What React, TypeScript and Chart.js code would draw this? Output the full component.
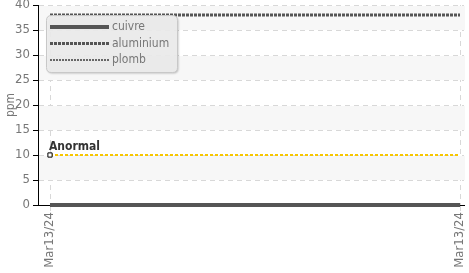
import React, { useEffect, useRef } from "react";
import { Chart, registerables } from "chart.js";

Chart.register(...registerables);

const categories = ["Mar13/24", "Mar13/24"];
const cuivre = [0, 0];
const aluminium = [38, 38];
const plomb = [0, 0];
const anormal = [10, 10];
const yMin = 0;
const yMax = 40;
const yStep = 5;
const legendNames = ["cuivre", "aluminium", "plomb"];
const yTitle = "ppm";
const anormalLabel = "Anormal";

const FONT = "'Liberation Sans Narrow', 'DejaVu Sans Condensed', 'Roboto', sans-serif";

const pts = (arr: number[]) => arr.map((v, i) => ({ x: i, y: v }));

const bandsPlugin = {
  id: "bands",
  beforeDatasetsDraw(chart: any) {
    const { ctx, chartArea, scales } = chart;
    const y = scales.y;
    ctx.save();
    ctx.fillStyle = "#f7f7f7";
    const ticks = y.ticks;
    for (let i = 0; i < ticks.length - 1; i++) {
      if (i % 2 === 1) {
        const top = y.getPixelForValue(ticks[i + 1].value);
        const bot = y.getPixelForValue(ticks[i].value);
        ctx.fillRect(chartArea.left + 1, top + 1, chartArea.right - chartArea.left, bot - top - 1);
      }
    }
    ctx.restore();
  },
};

const xLabelsPlugin = {
  id: "xLabels",
  afterDraw(chart: any) {
    const { ctx, scales, chartArea } = chart;
    const x = scales.x;
    ctx.save();
    ctx.font = "13px " + FONT;
    ctx.fillStyle = "#777";
    ctx.textAlign = "right";
    ctx.textBaseline = "middle";
    categories.forEach((label, i) => {
      const px = x.getPixelForValue(i);
      ctx.save();
      ctx.translate(px, chartArea.bottom + 7);
      ctx.rotate(-Math.PI / 2);
      ctx.fillText(label, 0, 0);
      ctx.restore();
    });
    ctx.restore();
  },
};

const overlayPlugin = {
  id: "overlay",
  afterDatasetsDraw(chart: any) {
    const { ctx, scales } = chart;
    const x = scales.x;
    const y = scales.y;
    ctx.save();
    // Anormal label
    const px = x.getPixelForValue(0);
    const py = y.getPixelForValue(anormal[0]);
    ctx.font = "bold 12px " + FONT;
    ctx.fillStyle = "#333";
    ctx.textAlign = "left";
    ctx.textBaseline = "alphabetic";
    ctx.fillText(anormalLabel, px - 1, py - 5);

    // Legend box
    const bx = 46.5, by = 15.5, bw = 131, bh = 57, r = 5;
    ctx.shadowColor = "rgba(0,0,0,0.25)";
    ctx.shadowOffsetX = 1;
    ctx.shadowOffsetY = 1;
    ctx.shadowBlur = 2;
    ctx.beginPath();
    ctx.moveTo(bx + r, by);
    ctx.lineTo(bx + bw - r, by);
    ctx.quadraticCurveTo(bx + bw, by, bx + bw, by + r);
    ctx.lineTo(bx + bw, by + bh - r);
    ctx.quadraticCurveTo(bx + bw, by + bh, bx + bw - r, by + bh);
    ctx.lineTo(bx + r, by + bh);
    ctx.quadraticCurveTo(bx, by + bh, bx, by + bh - r);
    ctx.lineTo(bx, by + r);
    ctx.quadraticCurveTo(bx, by, bx + r, by);
    ctx.closePath();
    ctx.fillStyle = "rgba(238,238,238,0.92)";
    ctx.fill();
    ctx.shadowColor = "transparent";
    ctx.strokeStyle = "#c8c8c8";
    ctx.lineWidth = 1;
    ctx.stroke();

    const ds = chart.data.datasets;
    ctx.font = "12px " + FONT;
    ctx.textBaseline = "middle";
    legendNames.forEach((name, i) => {
      const d = ds[i];
      const ly = 27 + i * 16.5;
      ctx.beginPath();
      ctx.setLineDash(d.borderDash || []);
      ctx.lineWidth = d.borderWidth;
      ctx.strokeStyle = d.borderColor;
      ctx.moveTo(50, ly);
      ctx.lineTo(109, ly);
      ctx.stroke();
      ctx.setLineDash([]);
      ctx.fillStyle = "#777";
      ctx.fillText(name, 112, ly);
    });
    ctx.restore();
  },
};

export default function App() {
  const ref = useRef<HTMLCanvasElement | null>(null);
  useEffect(() => {
    if (!ref.current) return;
    const chart = new Chart(ref.current, {
      type: "line",
      data: {
        datasets: [
          {
            label: legendNames[0],
            data: pts(cuivre),
            borderColor: "#555",
            borderWidth: 4,
            pointRadius: 0,
            clip: false,
          } as any,
          {
            label: legendNames[1],
            data: pts(aluminium),
            borderColor: "#555",
            borderWidth: 3,
            borderDash: [3, 1],
            pointRadius: 0,
            clip: false,
          },
          {
            label: legendNames[2],
            data: pts(plomb),
            borderColor: "#666",
            borderWidth: 2,
            borderDash: [2, 1],
            pointRadius: 0,
            clip: false,
          },
          {
            label: anormalLabel,
            data: pts(anormal),
            borderColor: "#f7c600",
            borderWidth: 2,
            borderDash: [3, 2],
            pointStyle: "rect",
            pointRadius: [3, 0],
            pointBackgroundColor: "#fff",
            pointBorderColor: "#000",
            pointBorderWidth: 1,
            clip: false,
          },
        ],
      },
      options: {
        animation: false,
        responsive: false,
        events: [],
        layout: { padding: 0 },
        plugins: { legend: { display: false }, tooltip: { enabled: false } },
        scales: {
          x: {
            type: "linear",
            min: -12 / 410,
            max: 1 + 4 / 410,
            afterBuildTicks: (s: any) => {
              s.ticks = categories.map((_, i) => ({ value: i }));
            },
            afterFit: (s: any) => {
              s.height = 68;
              s.paddingLeft = 0;
              s.paddingRight = 0;
            },
            ticks: {
              display: false,
              autoSkip: false,
            },
            grid: {
              color: "#d8d8d8",
              tickColor: "#d8d8d8",
              tickLength: 6,
            } as any,
            border: { color: "#000", width: 1, dash: [5, 4] },
          },
          y: {
            min: yMin,
            max: yMax,
            afterFit: (s: any) => {
              s.width = 38;
              s.paddingTop = 5;
              s.paddingBottom = 0;
            },
            ticks: {
              stepSize: yStep,
              color: "#777",
              font: { family: FONT, size: 13 },
              padding: 3,
            },
            grid: {
              color: "#d8d8d8",
              tickColor: "#000",
              tickLength: 5,
              tickBorderDash: [],
            } as any,
            border: { color: "#000", width: 1, dash: [5, 4] },
            title: {
              display: true,
              text: yTitle,
              color: "#777",
              font: { family: FONT, size: 12 },
              padding: { top: 4, bottom: 0 },
            },
          },
        },
      },
      plugins: [bandsPlugin, overlayPlugin, xLabelsPlugin],
    } as any);
    return () => chart.destroy();
  }, []);
  return (
    <div style={{ position: "fixed", left: 0, top: 0, width: 469, height: 273, background: "#fff" }}>
      <canvas ref={ref} width={469} height={273} style={{ display: "block" }} />
    </div>
  );
}
